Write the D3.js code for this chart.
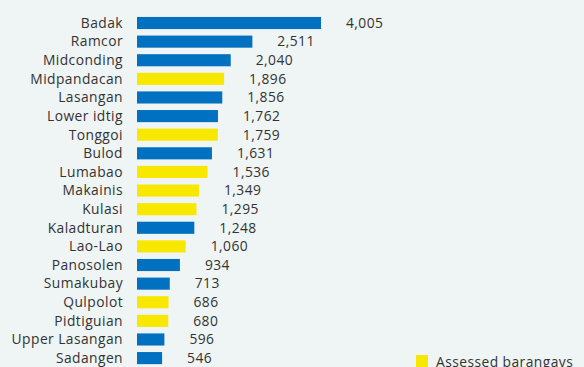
<!DOCTYPE html>
<html><head><meta charset="utf-8">
<script src="https://cdn.jsdelivr.net/npm/d3@7"></script>
<style>
html,body{margin:0;padding:0;background:#eff4f4;}
svg{display:block;}
</style></head>
<body>
<script>
const categories = ["Badak","Ramcor","Midconding","Midpandacan","Lasangan","Lower idtig","Tonggoi","Bulod","Lumabao","Makainis","Kulasi","Kaladturan","Lao-Lao","Panosolen","Sumakubay","Qulpolot","Pidtiguian","Upper Lasangan","Sadangen"];
const values = [4005,2511,2040,1896,1856,1762,1759,1631,1536,1349,1295,1248,1060,934,713,686,680,596,546];
const assessed = [false,false,false,true,false,false,true,false,true,true,true,false,true,false,false,true,true,false,false];
const legendLabels = ["Assessed barangays"];

const W = 584, H = 367;
const colors = {blue:"#0070c0", yellow:"#f8e800", text:"#333333"};
const font = "'Open Sans', sans-serif";
const fs = 13.8, ls = 0.45;

const svg = d3.select("body").append("svg").attr("width", W).attr("height", H);

const x = d3.scaleLinear().domain([0, 4005]).range([137, 321]);
const y = d3.scaleBand().domain(categories).range([13.7, 367.4]).paddingInner(0.35).paddingOuter(0.175);

const data = categories.map((c,i)=>({cat:c, v:values[i], a:assessed[i]}));

svg.selectAll("rect.bar").data(data).join("rect")
  .attr("class","bar")
  .attr("x", x(0))
  .attr("y", d=>y(d.cat))
  .attr("width", d=>x(d.v)-x(0))
  .attr("height", y.bandwidth())
  .attr("fill", d=>d.a?colors.yellow:colors.blue);

svg.selectAll("text.cat").data(data).join("text")
  .attr("class","cat")
  .attr("x", 123)
  .attr("y", d=>y(d.cat)+y.bandwidth()/2)
  .attr("dy","0.35em")
  .attr("text-anchor","end")
  .attr("font-family", font).attr("font-size", fs).attr("letter-spacing", ls)
  .attr("fill", colors.text)
  .text(d=>d.cat);

const fmt = d3.format(",");
svg.selectAll("text.val").data(data).join("text")
  .attr("class","val")
  .attr("x", d=>x(d.v)+25)
  .attr("y", d=>y(d.cat)+y.bandwidth()/2)
  .attr("dy","0.35em")
  .attr("font-family", font).attr("font-size", fs).attr("letter-spacing", ls)
  .attr("fill", colors.text)
  .text(d=>fmt(d.v));

const lg = svg.append("g");
lg.append("rect").attr("x",416).attr("y",355).attr("width",12).attr("height",12).attr("fill",colors.yellow);
lg.append("text").attr("x",436).attr("y",362).attr("dy","0.35em")
  .attr("font-family", font).attr("font-size", fs).attr("letter-spacing", ls).attr("fill", colors.text)
  .text(legendLabels[0]);
</script>
</body></html>
